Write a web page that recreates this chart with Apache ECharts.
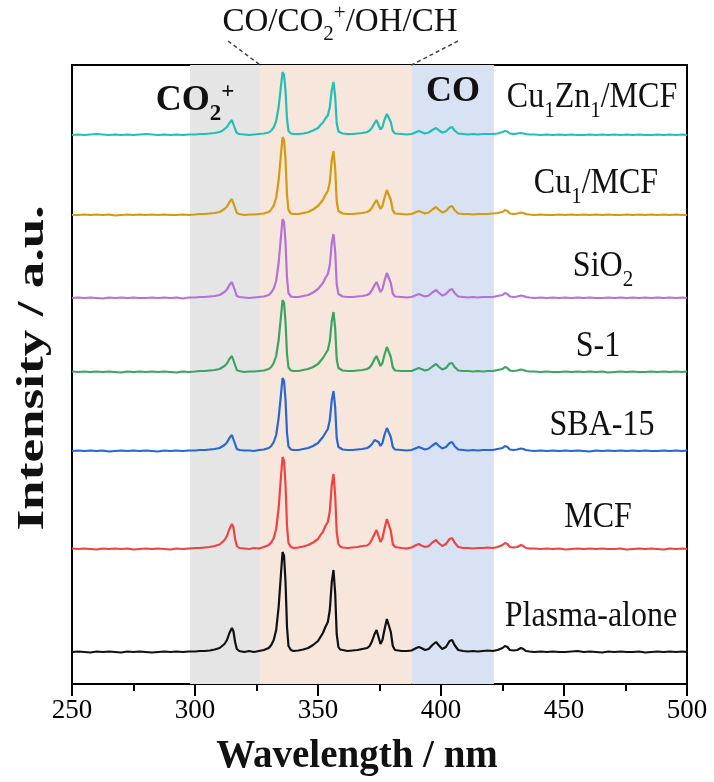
<!DOCTYPE html>
<html><head><meta charset="utf-8">
<script src="https://cdn.jsdelivr.net/npm/echarts@6/dist/echarts.min.js"></script>
<style>html,body{margin:0;padding:0;background:#fff}#c{width:714px;height:782px}</style>
</head><body><div id="c"></div>
<script>
// ---------------- data ----------------
const wavelength = [250,252.5,255,257.5,260,262.5,265,267.5,270,272.5,275,277.5,280,282.5,285,287.5,290,292.5,295,297.5,300,
302,304,306,308,310,311,312,313,314,315,315.6,316.3,317,318,
320,322,324,326,328,330,331,332,333,334,335,335.6,336.2,336.8,337.4,338,339,340,
342,344,346,348,
350,351,352,353,354,354.8,355.6,356.3,357,357.6,358.3,359,360,
362,364,366,368,
370,371,372,373,373.8,374.6,375.4,376.2,377,378,378.8,379.6,380.4,381.3,382,
384,386,388,390,391,392,393.5,395,396.5,398,399,400.5,402,403.5,404.5,405.5,407,409,411,413,415,417,419,421,423,425,426,427,428,429.5,431,432.5,433.5,434.5,436,
438,440.5,443,445.5,448,450.5,453,455.5,458,460.5,463,465.5,468,470.5,473,475.5,478,480.5,483,485.5,488,490.5,493,495.5,498,500];

const sampleNames = ['Plasma-alone','MCF','SBA-15','S-1','SiO2','Cu1/MCF','Cu1Zn1/MCF'];
const sampleOffsets = [32,135,233,312,386,469,549];

const plasmaAlone = [0,0.5,0,-0.5,0.5,0,0.5,0,-0.5,0.5,0,0.5,0,-0.5,0,0.5,0,0.5,0,0.5,0.5,
1,1,1.5,2.5,4,6,8,12,19,24,21,10,3,1,
0,1,0,1,2,4,7,12,22,45,80,100,96,70,25,6,2,1,
1.5,2.5,4,7,
11,15,19,25,30,42,70,82,58,18,5,2.5,2,
1,1.5,2,3,
4,6,11,18,22,15,8,12,22,33,34,20,6,2,1.5,
1,1,1.5,4,5,4,2,3,7,10,7,3,5,11,12,7,2,1,0.5,1,0.5,1,1.5,1,2,4,6,5,2,1.5,2,4,3,1,0.5,
0,0.5,0,0.5,0,0,0.5,1,0,0.5,0,-0.5,0.5,0,0.5,0,0,0.5,-0.5,0,0.5,0,0.5,0,0.5,0];

const mcf = [0.5,0,0.5,0,-0.5,0.5,0,0.5,0,0.5,-0.5,0,0.5,0,0.5,0,-0.5,0.5,0,0.5,1,
1,1.5,2,3,4.5,6.5,9,13,20,25,22,10,3,1,
0.5,0,1,0.5,2,4,6.5,11,20,41,74,92,88,64,23,6,2,1,
1.5,2.5,4,6.5,
10,14,17,23,27,38,64,75,53,17,5,2.5,1.5,
1,1.5,2,3,
3.5,5.5,10,15,19,13,7,11,20,30,31,18,5,2,1,
1,0.5,1.5,4,5,3.5,2,3,6.5,9,6,3,5,10,11,6.5,2,1,1,0.5,1,1,1.5,1,2,4,6,5,2,1.5,2,4,3,1,0.5,
0.5,0,0.5,0,0.5,-0.5,0,0.5,0,0.5,0,0.5,0,0,0.5,-0.5,0,0.5,0,0.5,0,-0.5,0.5,0,0.5,0];

const sba15 = [0,0.5,0,0.5,0,0.5,-0.5,0,0.5,0,0.5,0,0.5,0,-0.5,0.5,0,0.5,0,0.5,0.5,
1,1,1.5,2,3,4.5,6,8.5,13,16,14,7,2,1,
0.5,0.5,0,1,1.5,3,5,9,16,33,58,73,70,51,18,4.5,1.5,1,
1,2,3,5,
8,11,14,18,22,31,51,60,43,13,4,2,1.5,
1,1,1.5,2,
3,4.5,7,11,13,9,5,8,16,23,24,14,4,1.5,1,
1,0.5,1,3,4,3,1.5,2.5,5.5,8,5.5,2.5,4,8,9,5,1.5,1,0.5,1,0.5,1,1,1,2,3,5,4,1.5,1,1.5,2.5,2,1,0.5,
0,0.5,0,0.5,0,0.5,0,0.5,0,-0.5,0.5,0,0.5,0,0.5,0,0.5,0,0.5,0,0,0.5,0,0.5,0,0.5];

const s1 = [0.5,0,0.5,0,0.5,0,0.5,0,-0.5,0.5,0,0.5,0,0.5,0,0.5,0,-0.5,0.5,0,0.5,
1,1,1.5,2,3,4.5,6,8.5,13,16,14,7,2,1,
0,0.5,0.5,1,1.5,3,5,9,16,32,57,72,69,50,18,4.5,1.5,1,
1,2,3,5,
8,11,14,18,22,31,51,60,43,13,4,2,1.5,
1,1,1.5,2,
3,4.5,8,13,16,11,6,9,17,25,26,15,4.5,1.5,1,
1,1,1,3,4,3,1.5,2.5,5.5,8,5.5,2.5,4,8.5,9,5,1.5,1,1,0.5,1,0.5,1,1,2,3,5,4,1.5,1,1.5,2.5,2,1,0.5,
0.5,0,0.5,0,0,0.5,0,0.5,0,0.5,0,0.5,-0.5,0,0.5,0,0.5,0,0,0.5,0,0.5,0,0.5,0,0.5];

const sio2 = [0,0.5,0,0.5,0,-0.5,0.5,0,0.5,0,0.5,0,0,0.5,0,0.5,0,0.5,-0.5,0.5,0.5,
1,1,1.5,2,3,4.5,6,8.5,13,16,14,7,2,1,
0.5,0,0.5,1,1.5,3,5.5,9.5,17,35,63,79,76,55,20,5,1.5,1,
1,2,3,5.5,
9,12,15,20,24,33,55,64,46,14,4,2,1.5,
1,1,1.5,2,
3,4.5,8,13,16,11,6,9,17,25,26,15,4.5,1.5,1,
1,0.5,1,3,4,3,1.5,2.5,5.5,8,5.5,2.5,4,8,9,5,1.5,1,0.5,1,0.5,1,1,1,2,3,5,4,1.5,1,1.5,2.5,2,1,0.5,
0,0.5,0,0.5,0,0.5,0,0.5,0,0.5,0,0,0.5,0,0.5,0,0.5,0,0.5,0,0.5,0,0.5,0,0.5,0];

const cu1Mcf = [0,0,0.5,0,0.5,0,0.5,-0.5,0,0.5,0,0.5,0,0.5,0,0.5,0,0,0.5,0,0.5,
1,1,1.5,2,3,4.5,6,8.5,13,16,14,7,2,1,
0,0.5,0.5,1,1.5,3,5.5,9.5,17,35,62,78,75,55,20,5,1.5,1,
1,2,3,5.5,
9,12,15,20,24,33,55,64,46,14,4,2,1.5,
1,1,1.5,2,
3,4.5,7.5,12,15,10.5,6,9,17,25,26,15,4.5,1.5,1,
1,0.5,1,3,4,3,1.5,2.5,5.5,8,5.5,2.5,4,8,9,5,1.5,1,1,0.5,1,1,1,1.5,2,3,5,4,1.5,1,1.5,2.5,2,1,0.5,
0,0.5,0,0,0.5,0,0.5,0,0.5,0,0.5,0,0.5,0,0,0.5,0,0.5,0,0.5,0,0.5,0,0.5,0,0];

const cu1Zn1Mcf = [0,0.5,0,0.5,1,0.5,0,0.5,0,0.5,0,0.5,1,0.5,0,0.5,0,0.5,0,0.5,0.5,
1,1,1.5,2,3,4,6,8,12,15,13,6,2,1,
0.5,0,0.5,1,1.5,2.5,4.5,7.5,14,28,50,63,60,44,16,4,1.5,1,
1,1.5,2.5,4.5,
7,10,12.5,16.5,19.5,28,45,53,38,12,3.5,2,1.5,
1,1,1.5,2,
3,4.5,7.5,12,15,10,5.5,8,15,21,22,13,4,1.5,1,
1,0.5,1,3,4,3,1.5,2.5,5,7,5,2.5,3.5,7,8,4.5,1.5,1,0.5,1,0.5,1,1,1,1.5,3,4,3.5,1.5,1,1.5,2,1.5,1,0.5,
0.5,0,0.5,0,0.5,0,0.5,0,0,0.5,0,0.5,0,0.5,0,0.5,0,0.5,0,0,0.5,0,0.5,0,0.5,0];

const sampleValues = [plasmaAlone, mcf, sba15, s1, sio2, cu1Mcf, cu1Zn1Mcf];
const xTickValues = [250,300,350,400,450,500];
const bandNames = ['CO2+','CO/CO2+/OH/CH','CO'];
const bandRanges = [[298,326.5],[326.5,388],[388,421.5]];

// ---------------- style ----------------
const serif = '"Liberation Serif","Times New Roman",serif';
const lineColors = ['#111111','#ef4343','#2866d2','#3ba463','#b272d8','#d49a10','#22bfb6'];
const bandColors = ['#e5e5e5','#f7e6dc','#d9e2f3'];

const chart = echarts.init(document.getElementById('c'), null, {renderer:'canvas'});

const series = sampleNames.map((name, k) => ({
  name, type:'line', showSymbol:false, symbol:'none', z:3,
  lineStyle:{width:2.2, color:lineColors[k]}, itemStyle:{color:lineColors[k]},
  data: wavelength.map((w, i) => [w, sampleOffsets[k] + sampleValues[k][i]])
}));
series[0].markArea = {
  silent:true, z:1,
  data: bandRanges.map((r, j) => [{xAxis:r[0], itemStyle:{color:bandColors[j], opacity:1}}, {xAxis:r[1]}])
};

chart.setOption({
  animation:false,
  backgroundColor:'#fff',
  grid:{left:72, right:27, top:65, bottom:98, show:true, borderColor:'#000', borderWidth:2, backgroundColor:'transparent'},
  xAxis:{type:'value', min:250, max:500, interval:50,
    axisLine:{show:true, onZero:false, lineStyle:{color:'#000', width:2}},
    axisTick:{show:true, inside:false, length:12, lineStyle:{color:'#000', width:2}},
    minorTick:{show:true, splitNumber:2, length:7, lineStyle:{color:'#000', width:2}},
    splitLine:{show:false}, minorSplitLine:{show:false},
    axisLabel:{fontFamily:serif, fontSize:27, color:'#000', margin:13,
      formatter:v => xTickValues.includes(v) ? String(v) : ''}
  },
  yAxis:{type:'value', min:0, max:619, show:true,
    axisLine:{show:false}, axisTick:{show:false}, axisLabel:{show:false}, splitLine:{show:false}},
  series
});

function rich(fs, bold){
  const w = bold ? 'bold' : 'normal';
  const lh = Math.round(fs*1.4);
  const sf = Math.round(fs*0.65);
  return {
    n:{fontSize:fs, fontFamily:serif, fontWeight:w, fill:'#111', lineHeight:lh, verticalAlign:'middle'},
    s:{fontSize:sf, fontFamily:serif, fontWeight:w, fill:'#111', lineHeight:lh, verticalAlign:'bottom'},
    p:{fontSize:sf, fontFamily:serif, fontWeight:w, fill:'#111', lineHeight:Math.round(sf*1.2), verticalAlign:'top', padding:[Math.round(fs*0.13),0,0,0]}
  };
}
function richText(t){
  return t.replace(/(Cu|Zn|O)(\d)/g, '$1\u0000$2\u0001')
          .split(/(\u0000\d\u0001|\+)/).filter(x=>x!=='').map(x=>{
            if (x[0]==='\u0000') return '{s|'+x[1]+'}';
            if (x==='+') return '{p|+}';
            return '{n|'+x+'}';
          }).join('');
}

const sampleLabelPos = [[591,617],[598,518],[602,426],[598,347],[603,267],[596,184],[592,98]];
const graphics = [];
sampleNames.forEach((name,k)=>{
  graphics.push({type:'text', x:sampleLabelPos[k][0], y:sampleLabelPos[k][1], z:10, scaleY:1.1,
    style:{text:richText(name), rich:rich(32,false), align:'center', verticalAlign:'middle'}});
});
graphics.push({type:'text', x:195, y:101, z:10, style:{text:richText(bandNames[0]), rich:rich(36,true), align:'center', verticalAlign:'middle'}});
graphics.push({type:'text', x:340, y:22, z:10, style:{text:richText(bandNames[1]), rich:rich(33,false), align:'center', verticalAlign:'middle'}});
graphics.push({type:'text', x:453, y:92, z:10, style:{text:richText(bandNames[2]), rich:rich(36,true), align:'center', verticalAlign:'middle'}});
const pL = chart.convertToPixel({gridIndex:0}, [bandRanges[1][0], 619]);
const pR = chart.convertToPixel({gridIndex:0}, [bandRanges[1][1], 619]);
graphics.push({type:'line', z:10, shape:{x1:228, y1:41, x2:pL[0], y2:pL[1]}, style:{stroke:'#444', lineWidth:1.5, lineDash:[4,3]}});
graphics.push({type:'line', z:10, shape:{x1:458, y1:41, x2:pR[0], y2:pR[1]}, style:{stroke:'#444', lineWidth:1.5, lineDash:[4,3]}});
graphics.push({type:'text', x:33, y:368, rotation:Math.PI/2, scaleX:1.4, z:10,
  style:{text:'Intensity / a.u.', font:'bold 38px '+serif, fill:'#111', align:'center', verticalAlign:'middle'}});
graphics.push({type:'text', x:357, y:757, z:10,
  style:{text:'Wavelength / nm', font:'bold 39px '+serif, fill:'#111', align:'center', verticalAlign:'middle'}});

chart.setOption({graphic:graphics});
</script>
</body></html>
